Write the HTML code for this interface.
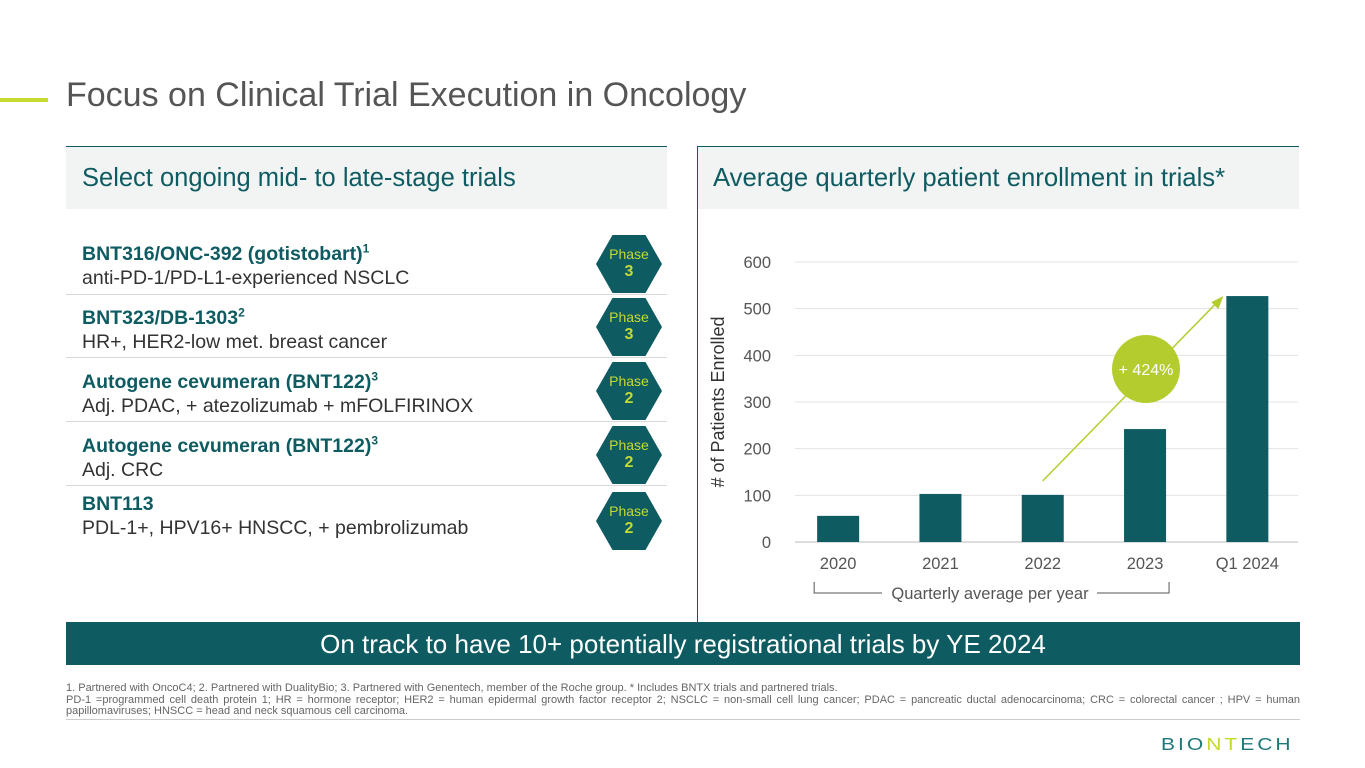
<!DOCTYPE html>
<html><head><meta charset="utf-8"><style>
body{margin:0;width:1365px;height:768px;position:relative;overflow:hidden;background:#fff;font-family:"Liberation Sans",sans-serif;}
.a{position:absolute;}
.hex{position:absolute;width:66px;height:58px;background:#0e5b62;clip-path:polygon(25% 0,75% 0,100% 50%,75% 100%,25% 100%,0 50%);color:#c5d92e;text-align:center;font-size:14px;line-height:17px;}
.hex b{font-size:16px;}
.trial{position:absolute;left:82px;font-size:19.5px;color:#333;line-height:24px;white-space:nowrap;}
.trial b{color:#0e5b62;}
.sep{position:absolute;left:66px;width:601px;height:1px;background:#d8d8d8;}
</style></head><body>
<div class="a" style="left:0;top:98px;width:48px;height:4px;background:#c5d92e"></div>
<div class="a" style="left:66px;top:76px;font-size:34px;color:#555;white-space:nowrap">Focus on Clinical Trial Execution in Oncology</div>

<div class="a" style="left:66px;top:146px;width:601px;height:62px;background:#f2f4f4;border-top:1px solid #0e5b62"></div>
<div class="a" style="left:82px;top:164px;font-size:25.5px;color:#0e5b62;white-space:nowrap">Select ongoing mid- to late-stage trials</div>
<div class="a" style="left:697px;top:146px;width:602px;height:62px;background:#f2f4f4;border-top:1px solid #0e5b62"></div>
<div class="a" style="left:713px;top:164px;font-size:25.7px;color:#0e5b62;white-space:nowrap">Average quarterly patient enrollment in trials*</div>
<div class="a" style="left:697px;top:146px;width:1px;height:476px;background:#0e5b62"></div>

<div class="trial" style="top:236px"><b>BNT316/ONC-392 (gotistobart)<sup style="font-size:12px">1</sup></b><br>anti-PD-1/PD-L1-experienced NSCLC</div>
<div class="sep" style="top:294px"></div>
<div class="trial" style="top:300px"><b>BNT323/DB-1303<sup style="font-size:12px">2</sup></b><br>HR+, HER2-low met. breast cancer</div>
<div class="sep" style="top:357px"></div>
<div class="trial" style="top:364px"><b>Autogene cevumeran (BNT122)<sup style="font-size:12px">3</sup></b><br>Adj. PDAC, + atezolizumab + mFOLFIRINOX</div>
<div class="sep" style="top:421px"></div>
<div class="trial" style="top:428px"><b>Autogene cevumeran (BNT122)<sup style="font-size:12px">3</sup></b><br>Adj. CRC</div>
<div class="sep" style="top:485px"></div>
<div class="trial" style="top:492px"><b>BNT113</b><br>PDL-1+, HPV16+ HNSCC, + pembrolizumab</div>

<div class="hex" style="left:596px;top:235px;padding-top:11px;height:47px">Phase<br><b>3</b></div>
<div class="hex" style="left:596px;top:298px;padding-top:11px;height:47px">Phase<br><b>3</b></div>
<div class="hex" style="left:596px;top:362px;padding-top:11px;height:47px">Phase<br><b>2</b></div>
<div class="hex" style="left:596px;top:426px;padding-top:11px;height:47px">Phase<br><b>2</b></div>
<div class="hex" style="left:596px;top:492px;padding-top:11px;height:47px">Phase<br><b>2</b></div>

<svg class="a" style="left:0;top:0" width="1365" height="768">
<g id="g"></g>
</svg>

<div class="a" style="left:66px;top:622px;width:1234px;height:43px;background:#0e5b62;color:#fff;font-size:26px;text-align:center;line-height:45px;white-space:nowrap">On track to have 10+ potentially registrational trials by YE 2024</div>
<div class="a" style="left:66px;top:683px;width:1234px;font-size:11px;color:#666;line-height:11.5px;text-align:justify">1. Partnered with OncoC4; 2. Partnered with DualityBio; 3. Partnered with Genentech, member of the Roche group. * Includes BNTX trials and partnered trials.<br>PD-1 =programmed cell death protein 1; HR = hormone receptor; HER2 = human epidermal growth factor receptor 2; NSCLC = non-small cell lung cancer; PDAC = pancreatic ductal adenocarcinoma; CRC = colorectal cancer ; HPV = human papillomaviruses; HNSCC = head and neck squamous cell carcinoma.</div>
<div class="a" style="left:66px;top:719px;width:1234px;height:1px;background:#ccc"></div>
<div class="a" style="left:1161px;top:733px;font-size:21px;letter-spacing:3px;color:#1e7a78;transform:scaleY(0.85)">BIO<span style="color:#c5d92e">NT</span>ECH</div>

<script>
const categories=["2020","2021","2022","2023","Q1 2024"];
const values=[56,103,101,242,527];
const ticks=[0,100,200,300,400,500,600];
const g=document.getElementById('g');
const ns='http://www.w3.org/2000/svg';
const y0=542,ppu=280/600,x0=787,step=102.3,bw=42;
const Y=v=>y0-v*ppu, X=i=>x0+step*(i+0.5);
function mk(t,a,txt){const e=document.createElementNS(ns,t);for(const k in a)e.setAttribute(k,a[k]);if(txt!==undefined)e.textContent=txt;g.appendChild(e);return e;}
ticks.forEach(t=>{
 const l=mk('line',{x1:795,x2:1298,y1:Y(t),y2:Y(t),stroke:t===0?'#bbb':'#e3e3e3','stroke-width':1});
 
 const tx=mk('text',{x:771,y:Y(t)+6,'text-anchor':'end','font-size':16.5,fill:'#555','font-family':'Liberation Sans'},t);
 
});
categories.forEach((c,i)=>{
 const r=mk('rect',{x:X(i)-bw/2,y:Y(values[i]),width:bw,height:values[i]*ppu,fill:'#0e5b62'});
 
 const tx=mk('text',{x:X(i),y:569,'text-anchor':'middle','font-size':16.5,fill:'#555','font-family':'Liberation Sans'},c);
 
});
const yt=mk('text',{x:0,y:0,transform:'translate(724,402) rotate(-90)','text-anchor':'middle','font-size':18,fill:'#333','font-family':'Liberation Sans'},'# of Patients Enrolled');

const br=mk('path',{d:`M${X(0)-24} 582 V593 H882 M1097 593 H${X(3)+24} V582`,fill:'none',stroke:'#555','stroke-width':1});

const bt=mk('text',{x:990,y:599,'text-anchor':'middle','font-size':16.5,fill:'#555','font-family':'Liberation Sans'},'Quarterly average per year');

const ar=mk('line',{x1:X(2),y1:Y(values[2])-14,x2:X(4)-28,y2:Y(values[4])+4,stroke:'#b5cc2e','stroke-width':1.5});

const ah=mk('polygon',{points:`${X(4)-24},${Y(values[4])-0} ${X(4)-36},${Y(values[4])+6} ${X(4)-29},${Y(values[4])+13}`,fill:'#b5cc2e'});

const c=mk('circle',{cx:1146,cy:369,r:34,fill:'#b5cc2e'});

const ct=mk('text',{x:1146,y:375,'text-anchor':'middle','font-size':16,fill:'#fff','font-family':'Liberation Sans'},'+ 424%');

</script>
</body></html>
